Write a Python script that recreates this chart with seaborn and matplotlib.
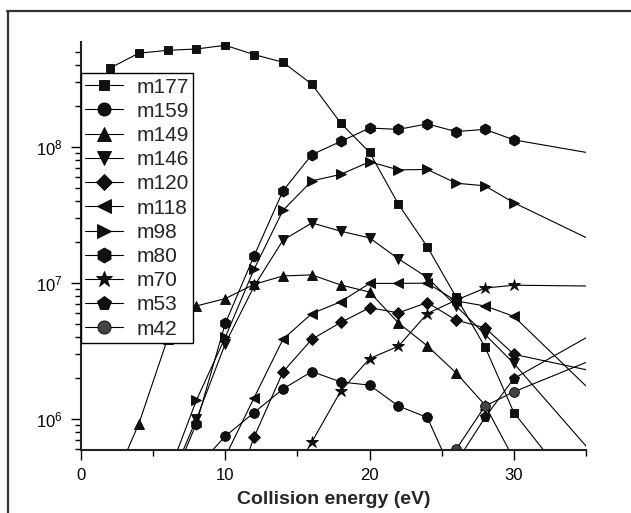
import numpy as np
import pandas as pd
import matplotlib
matplotlib.use('Agg')
import matplotlib.pyplot as plt
import seaborn as sns
from matplotlib.lines import Line2D
from matplotlib.ticker import LogLocator, NullFormatter, FixedLocator
from matplotlib import font_manager

nan = np.nan
energy = [2, 4, 6, 8, 10, 12, 14, 16, 18, 20, 22, 24, 26, 28, 30, 40]

m177 = [3.8e8, 4.9e8, 5.14e8, 5.26e8, 5.6e8, 4.78e8, 4.2e8, 2.9e8, 1.5e8, 9.15e7,
        3.8e7, 1.85e7, 7.9e6, 3.4e6, 1.12e6, 5.1e4]
m159 = [nan, nan, nan, 4.4e5, 7.5e5, 1.12e6, 1.67e6, 2.24e6, 1.88e6, 1.78e6,
        1.25e6, 1.03e6, 3.5e5, nan, nan, nan]
m149 = [3.0e5, 9.2e5, 3.9e6, 6.8e6, 7.7e6, 9.8e6, 1.13e7, 1.15e7, 9.7e6, 8.6e6,
        5.1e6, 3.46e6, 2.19e6, 1.27e6, 5.1e5, nan]
m146 = [nan, nan, 3.2e5, 1.0e6, 3.6e6, 9.5e6, 2.07e7, 2.77e7, 2.41e7, 2.15e7,
        1.51e7, 1.1e7, 6.8e6, 4.2e6, 2.57e6, 1.57e5]
m120 = [nan, nan, nan, nan, 1.9e5, 7.4e5, 2.23e6, 3.87e6, 5.14e6, 6.6e6,
        6.05e6, 7.2e6, 5.35e6, 4.7e6, 3.0e6, 1.78e6]
m118 = [nan, nan, nan, nan, 5.3e5, 1.44e6, 3.87e6, 5.98e6, 7.3e6, 9.96e6,
        9.96e6, 1.0e7, 7.4e6, 6.8e6, 5.7e6, 5.4e5]
m98 = [nan, nan, 3.8e5, 1.38e6, 4.0e6, 1.27e7, 3.43e7, 5.65e7, 6.3e7, 7.8e7,
       6.8e7, 6.85e7, 5.43e7, 5.19e7, 3.9e7, 1.2e7]
m80 = [nan, nan, 2.9e5, 9.3e5, 5.06e6, 1.59e7, 4.77e7, 8.8e7, 1.1e8, 1.38e8,
       1.35e8, 1.48e8, 1.3e8, 1.35e8, 1.13e8, 7.4e7]
m70 = [nan, nan, nan, nan, nan, nan, 3.0e5, 6.8e5, 1.61e6, 2.79e6,
       3.44e6, 5.98e6, 7.5e6, 9.2e6, 9.66e6, 9.4e6]
m53 = [nan, nan, nan, nan, nan, nan, nan, nan, nan, nan,
       nan, nan, 4.8e5, 1.03e6, 1.99e6, 7.9e6]
m42 = [nan, nan, nan, nan, nan, nan, nan, nan, nan, nan,
       nan, nan, 6.0e5, 1.25e6, 1.59e6, 4.3e6]

labels = ['m177', 'm159', 'm149', 'm146', 'm120', 'm118', 'm98', 'm80', 'm70', 'm53', 'm42']
series = [m177, m159, m149, m146, m120, m118, m98, m80, m70, m53, m42]
markers = ['s', 'o', '^', 'v', 'D', '<', '>', 'h', '*', 'p', 'o']
msizes = [5.5, 7, 7.5, 7.5, 6, 7.5, 7.5, 8, 9, 8, 7]
mfaces = ['#111111'] * 10 + ['#444444']

sns.set_theme(style='ticks')
plt.rcParams['font.family'] = ['Liberation Sans', 'DejaVu Sans']
plt.rcParams['mathtext.fontset'] = 'custom'
plt.rcParams['mathtext.rm'] = 'Liberation Sans'
plt.rcParams['mathtext.it'] = 'Liberation Sans:italic'
plt.rcParams['mathtext.bf'] = 'Liberation Sans:bold'

names = {f.name for f in font_manager.fontManager.ttflist}
narrow = 'Liberation Sans Narrow' if 'Liberation Sans Narrow' in names else 'Liberation Sans'

fig = plt.figure(figsize=(6.31, 5.13), dpi=100)
ax = fig.add_axes([81 / 631, 63 / 513, 505 / 631, 408 / 513])

handles = []
for lab, vals, mk, ms, fc in zip(labels, series, markers, msizes, mfaces):
    df = pd.DataFrame({'E': energy, 'I': vals}).dropna()
    sns.lineplot(data=df, x='E', y='I', ax=ax, color='black', lw=0.8,
                 marker=mk, markersize=ms, markerfacecolor=fc,
                 markeredgecolor='black', markeredgewidth=0.6)
    handles.append(Line2D([], [], color='black', lw=0.8, marker=mk,
                          markersize=ms * 1.35, markerfacecolor=fc,
                          markeredgecolor='black', markeredgewidth=0.6))

ax.set_yscale('log')
ax.set_xlim(0, 35)
ax.set_ylim(5.94e5, 5.92e8)

ax.xaxis.set_major_locator(FixedLocator([0, 10, 20, 30]))
ax.xaxis.set_minor_locator(FixedLocator([5, 15, 25, 35]))
ax.yaxis.set_major_locator(LogLocator(base=10, numticks=10))
ax.yaxis.set_minor_locator(LogLocator(base=10, subs=np.arange(2, 10), numticks=20))
ax.yaxis.set_minor_formatter(NullFormatter())

ax.tick_params(axis='both', which='major', direction='out', length=7, width=1,
               color='black', labelsize=12, labelcolor='black', pad=6)
ax.tick_params(axis='both', which='minor', direction='out', length=4, width=1,
               color='black')
plt.rcParams['mathtext.rm'] = narrow
for t in ax.get_xticklabels() + ax.get_yticklabels():
    t.set_family(narrow)

for s in ['top', 'right']:
    ax.spines[s].set_visible(False)
for s in ['left', 'bottom']:
    ax.spines[s].set_linewidth(1.5)
    ax.spines[s].set_color('#222222')

ax.set_ylabel('')
ax.set_xlabel('Collision energy (eV)', fontsize=14, fontweight='bold',
              family=narrow, labelpad=6)

leg = ax.legend(handles, labels, loc='upper left', bbox_to_anchor=(0, 0.923),
                borderaxespad=0, numpoints=1,
                prop={'family': 'Liberation Sans', 'size': 15}, frameon=True,
                fancybox=False, framealpha=1, edgecolor='black',
                handlelength=1.8, handletextpad=0.65, labelspacing=0.25,
                borderpad=0.2)
leg.get_frame().set_linewidth(1.0)

fig.add_artist(Line2D([7 / 631, 1], [1 - 10.5 / 513, 1 - 10.5 / 513],
                      transform=fig.transFigure, color='#333333', lw=1.6))
fig.add_artist(Line2D([7.5 / 631, 7.5 / 631], [0, 1 - 10.5 / 513],
                      transform=fig.transFigure, color='#333333', lw=1.6))

fig.savefig('out.png', dpi=100)
